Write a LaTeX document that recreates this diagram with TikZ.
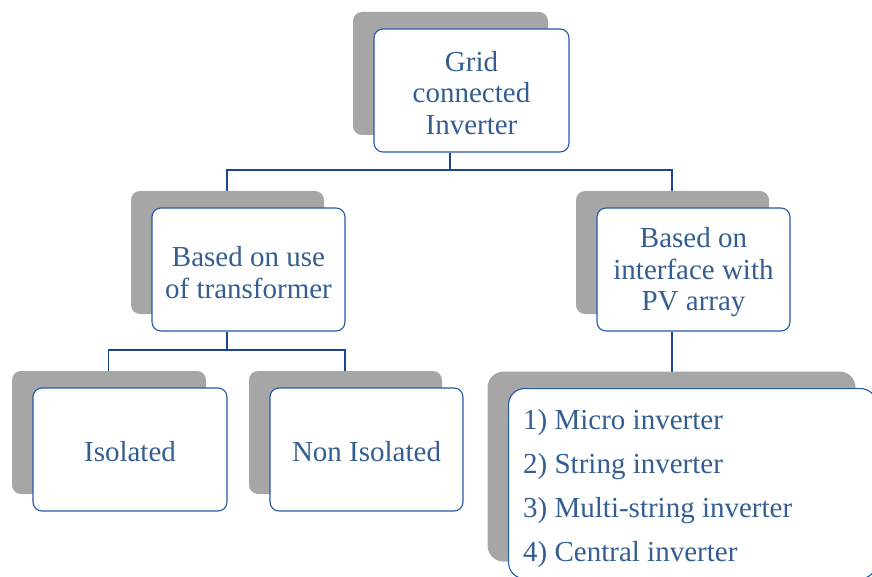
\documentclass[tikz,border=0pt]{standalone}
\usepackage{fontspec}
\setmainfont{Liberation Serif}
\usetikzlibrary{shadows,backgrounds}
\definecolor{txt}{RGB}{52,94,145}
\definecolor{edge}{RGB}{38,88,168}
\definecolor{wire}{RGB}{28,68,148}
\definecolor{shade}{RGB}{166,166,166}
\begin{document}
\begin{tikzpicture}[x=1pt,y=-1pt,
 card/.style={draw=edge, line width=1.1pt, fill=white, rounded corners=9pt,
   minimum width=193pt, minimum height=123pt, inner sep=0pt,
   drop shadow={shadow xshift=-21pt, shadow yshift=17pt, fill=shade, opacity=1}},
 cardtext/.style={inner sep=0pt, align=center, text=txt, font=\fontsize{29}{31.5}\selectfont},
 wirel/.style={draw=wire, line width=1.1pt},
 listtext/.style={text=txt, inner sep=0pt, align=left, font=\fontsize{29}{44}\selectfont}]
\useasboundingbox (0,0) rectangle (872,577);
\clip (0,0) rectangle (872,577);
\node[card, minimum width=195pt] (top) at (471.5,90.5) {};
\node[cardtext] (topt) at (471.5,93) {Grid\\connected\\Inverter};
\node[card] (leftmid) at (248.5,269.5) {};
\node[cardtext] (leftmidt) at (248.5,272.5) {Based on use\\of transformer};
\node[card] (rightmid) at (693.5,269.5) {};
\node[cardtext] (rightmidt) at (693.5,272.5) {Based on\\interface with\\PV array};
\node[card, minimum width=194pt] (iso) at (130,449.5) {};
\node[cardtext] (isot) at (130,452) {Isolated};
\node[card] (noniso) at (366.5,449.5) {};
\node[cardtext] (nonisot) at (366.5,452) {Non Isolated};
\node[card, anchor=north west, minimum width=368pt, minimum height=190pt, rounded corners=16pt] (list) at (508,388) {};
\node[listtext, anchor=west] (items) at (523,488.5) {1) Micro inverter\\2) String inverter\\3) Multi-string inverter\\4) Central inverter};
\begin{scope}[on background layer]
\coordinate (j1) at (450,170);
\coordinate (j2) at (227,350);
\draw[wirel] (top.south -| j1) -- (j1);
\draw[wirel] ([xshift=-21.5pt]leftmid.north) |- (j1) -| ([xshift=-21.5pt]rightmid.north);
\draw[wirel] (leftmid.south -| j2) -- (j2);
\draw[wirel] ([xshift=-21.5pt]iso.north) |- (j2) -| ([xshift=-21.5pt]noniso.north);
\draw[wirel] ([xshift=-21.5pt]rightmid.south) -- ([xshift=-21.5pt]rightmid.south |- list.north);
\end{scope}
\end{tikzpicture}
\end{document}
